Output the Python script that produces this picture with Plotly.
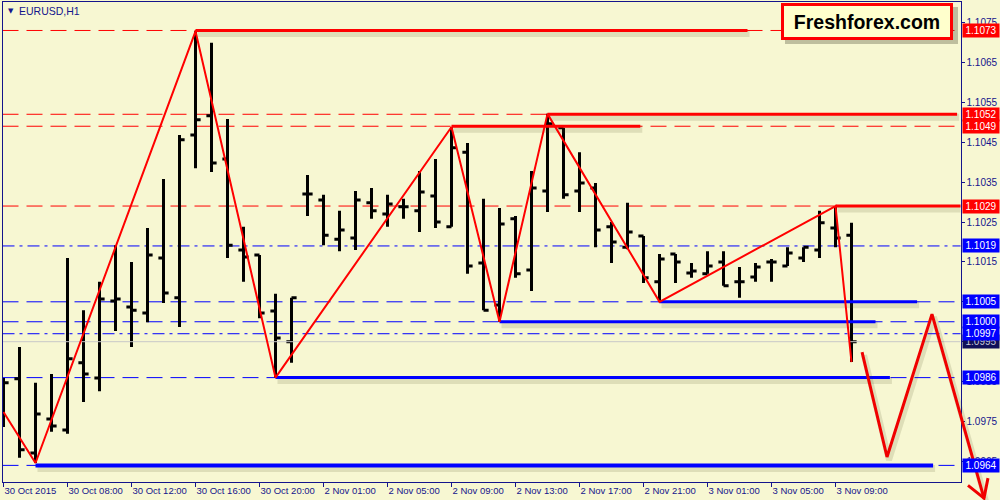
import plotly.graph_objects as go

# ---------------- data ----------------
tick_labels = ["30 Oct 2015", "30 Oct 08:00", "30 Oct 12:00", "30 Oct 16:00", "30 Oct 20:00",
               "2 Nov 01:00", "2 Nov 05:00", "2 Nov 09:00", "2 Nov 13:00", "2 Nov 17:00",
               "2 Nov 21:00", "3 Nov 01:00", "3 Nov 05:00", "3 Nov 09:00"]
tick_bars = [0, 4, 8, 12, 16, 20, 24, 28, 32, 36, 40, 44, 48, 52]

bar_open = [1.09791, 1.09857, 1.09671, 1.09756, 1.09729, 1.09897, 1.09859, 1.10052, 1.10037, 1.10022,
            1.10160, 1.10060, 1.10468, 1.10516, 1.10408, 1.10180, 1.10167, 1.10027, 1.09950, 1.10320,
            1.10305, 1.10207, 1.10210, 1.10298, 1.10270, 1.10288, 1.10278, 1.10315, 1.10238, 1.10425,
            1.10147, 1.10042, 1.10258, 1.10130, 1.10328, 1.10486, 1.10328, 1.10335, 1.10238, 1.10187,
            1.10215, 1.10100, 1.10170, 1.10122, 1.10120, 1.10150, 1.10100, 1.10112, 1.10150, 1.10140,
            1.10160, 1.10180, 1.10235, 1.10217]
bar_high = [1.09859, 1.09937, 1.09847, 1.09869, 1.10160, 1.10029, 1.10100, 1.10192, 1.10150, 1.10235,
            1.10358, 1.10468, 1.10728, 1.10699, 1.10508, 1.10238, 1.10167, 1.10070, 1.10060, 1.10368,
            1.10318, 1.10278, 1.10328, 1.10335, 1.10318, 1.10308, 1.10378, 1.10408, 1.10488, 1.10448,
            1.10308, 1.10285, 1.10265, 1.10378, 1.10521, 1.10486, 1.10425, 1.10348, 1.10250, 1.10298,
            1.10215, 1.10170, 1.10170, 1.10147, 1.10177, 1.10177, 1.10137, 1.10147, 1.10157, 1.10187,
            1.10187, 1.10278, 1.10290, 1.10248]
bar_low = [1.09736, 1.09659, 1.09646, 1.09724, 1.09719, 1.09799, 1.09826, 1.09977, 1.09937, 1.09999,
           1.10047, 1.09987, 1.10385, 1.10375, 1.10160, 1.10100, 1.10009, 1.09860, 1.09897, 1.10265,
           1.10192, 1.10177, 1.10180, 1.10258, 1.10238, 1.10258, 1.10225, 1.10235, 1.10238, 1.10120,
           1.10029, 1.10000, 1.10110, 1.10077, 1.10275, 1.10308, 1.10275, 1.10187, 1.10147, 1.10182,
           1.10097, 1.10050, 1.10097, 1.10110, 1.10120, 1.10090, 1.10060, 1.10100, 1.10100, 1.10140,
           1.10150, 1.10160, 1.10187, 1.09899]
bar_close = [1.09847, 1.09679, 1.09769, 1.09739, 1.09907, 1.09869, 1.10057, 1.10057, 1.10029, 1.10167,
             1.10072, 1.10456, 1.10506, 1.10398, 1.10192, 1.10162, 1.10022, 1.09959, 1.10060, 1.10320,
             1.10217, 1.10230, 1.10305, 1.10278, 1.10295, 1.10288, 1.10325, 1.10250, 1.10436, 1.10140,
             1.10029, 1.10245, 1.10120, 1.10335, 1.10496, 1.10318, 1.10348, 1.10230, 1.10200, 1.10225,
             1.10110, 1.10157, 1.10150, 1.10127, 1.10140, 1.10090, 1.10100, 1.10137, 1.10150, 1.10172,
             1.10187, 1.10248, 1.10210, 1.09950]
bar_index = list(range(len(bar_open)))

zigzag_bar = [0, 2, 12, 17, 28, 31, 34, 41, 52, 53]
zigzag_price = [1.09774, 1.09646, 1.10728, 1.09860, 1.10488, 1.10000, 1.10521, 1.10050, 1.10290, 1.09899]

# horizontal lines: price, colour, style
hline_price = [1.1073, 1.1052, 1.1049, 1.1029, 1.1019, 1.1005, 1.1000, 1.0997, 1.0986, 1.0964]
hline_color = ["red", "red", "red", "red", "blue", "blue", "blue", "blue", "blue", "blue"]
hline_style = ["dash", "dash", "dash", "dash", "dashdot", "dash", "dash", "dashdot", "dash", "dash"]

# trend segments: price, start bar, end bar, colour
seg_price = [1.1073, 1.1052, 1.1049, 1.1029, 1.1005, 1.1000, 1.0986, 1.0964]
seg_start = [12, 34, 28, 52, 41, 31, 17, 2]
seg_end = [46.5, 59.6, 39.8, 60.0, 57.1, 54.5, 55.4, 58.1]
seg_color = ["red", "red", "red", "red", "blue", "blue", "blue", "blue"]
seg_width = [3, 3, 3, 3, 3, 3, 3, 4]

bid_price = 1.0995

# price labels on the right scale
label_price = [1.0995, 1.1073, 1.1052, 1.1049, 1.1029, 1.1019, 1.1005, 1.1000, 1.0997, 1.0986, 1.0964]
label_bg = ["#10105A", "#FF0000", "#FF0000", "#FF0000", "#FF0000", "#0000FF", "#0000FF", "#0000FF",
            "#0000FF", "#0000FF", "#0000FF"]
label_fg = ["#C8C8D8", "white", "white", "white", "white", "white", "white", "white", "white", "white", "white"]

axis_ticks = [1.0965, 1.0975, 1.0985, 1.0995, 1.1005, 1.1015, 1.1025, 1.1035, 1.1045, 1.1055, 1.1065, 1.1075]

# hand-drawn forecast arrow (bar index, price)
forecast_bar = [53.66, 55.22, 58.03, 61.28]
forecast_price = [1.09924, 1.09661, 1.10019, 1.09558]
arrowhead_bar = [60.28, 61.28, 61.53]
arrowhead_price = [1.09590, 1.09558, 1.09608]

# ---------------- layout geometry ----------------
W, H = 1000, 500
L, R, T, B = 2.5, 960.5, 1.5, 482.0      # plot area in px
X0, DX = 3.5, 16.0                        # px of bar 0, px per bar
Y0, P0, K = 22.5, 1.1075, 39900.0         # px of P0, px per price unit

xr = [(L - X0) / DX, (R - X0) / DX]
yr = [P0 - (B - Y0) / K, P0 + (Y0 - T) / K]
xr2 = [(0 - X0) / DX, (W - X0) / DX]
yr2 = [P0 - (H - Y0) / K, P0 + (Y0 - 0) / K]

BG = "#F7F7D2"
NAVY = "#14148C"
FONT = "Liberation Sans"
shadow_dx = 2.0 / DX
shadow_dy = 3.0 / K
SHADOW = "rgba(70,70,30,0.14)"

fig = go.Figure()

# shadows of trend segments
for p, s, e in zip(seg_price, seg_start, seg_end):
    fig.add_trace(go.Scatter(x=[s + shadow_dx, e + shadow_dx], y=[p - shadow_dy, p - shadow_dy],
                             mode="lines", line=dict(color=SHADOW, width=7),
                             hoverinfo="skip", showlegend=False))

# bid line
fig.add_trace(go.Scatter(x=xr, y=[bid_price, bid_price], mode="lines",
                         line=dict(color="#C8C8C8", width=1), hoverinfo="skip", showlegend=False))

# OHLC bars
fig.add_trace(go.Ohlc(x=bar_index, open=bar_open, high=bar_high, low=bar_low, close=bar_close,
                      increasing=dict(line=dict(color="black", width=3)),
                      decreasing=dict(line=dict(color="black", width=3)),
                      tickwidth=0.32, showlegend=False, hoverinfo="skip"))

# trend segments
for p, s, e, c, w in zip(seg_price, seg_start, seg_end, seg_color, seg_width):
    fig.add_trace(go.Scatter(x=[s, e], y=[p, p], mode="lines", line=dict(color=c, width=w),
                             hoverinfo="skip", showlegend=False))

# zigzag
fig.add_trace(go.Scatter(x=zigzag_bar, y=zigzag_price, mode="lines",
                         line=dict(color="#FF0000", width=2), hoverinfo="skip", showlegend=False))

# forecast arrow on a full-figure overlay axis
fig.add_trace(go.Scatter(x=[b + shadow_dx for b in forecast_bar], y=[p - shadow_dy for p in forecast_price],
                         mode="lines", line=dict(color=SHADOW, width=6), xaxis="x2", yaxis="y2",
                         hoverinfo="skip", showlegend=False))
fig.add_trace(go.Scatter(x=forecast_bar, y=forecast_price, mode="lines",
                         line=dict(color="#F00000", width=3), xaxis="x2", yaxis="y2",
                         hoverinfo="skip", showlegend=False))
fig.add_trace(go.Scatter(x=arrowhead_bar, y=arrowhead_price, mode="lines",
                         line=dict(color="#F00000", width=3), xaxis="x2", yaxis="y2",
                         hoverinfo="skip", showlegend=False))

# dashed horizontal lines
dash_map = {"dash": "16px,8px", "dashdot": "12px,5px,3px,5px"}
shapes = []
for p, c, st in zip(hline_price, hline_color, hline_style):
    shapes.append(dict(type="line", xref="x domain", yref="y", x0=0, x1=1, y0=p, y1=p,
                       line=dict(color=c, width=1, dash=dash_map[st]), layer="below"))

# logo box shadow
shapes.append(dict(type="rect", xref="paper", yref="paper",
                   x0=785 / W, x1=958 / W, y0=1 - 44 / H, y1=1 - 7 / H,
                   fillcolor="rgba(60,60,40,0.3)", line=dict(width=0), layer="above"))

annotations = []
# right-scale price labels
for p, bg, fg in zip(label_price, label_bg, label_fg):
    annotations.append(dict(xref="paper", yref="y", x=961.5 / W, y=p, xanchor="left", yanchor="middle",
                            text=f"{p:.4f}", showarrow=False, bgcolor=bg, width=34, height=11,
                            borderpad=1, font=dict(family=FONT, size=10, color=fg), align="center"))

# chart title
annotations.append(dict(xref="paper", yref="paper", x=6 / W, y=1 - 11 / H, xanchor="left", yanchor="middle",
                        text="▼", showarrow=False, font=dict(family="DejaVu Sans", size=7, color=NAVY)))
annotations.append(dict(xref="paper", yref="paper", x=17 / W, y=1 - 11 / H, xanchor="left", yanchor="middle",
                        text="EURUSD,H1", showarrow=False, font=dict(family=FONT, size=10.5, color=NAVY)))

# logo
annotations.append(dict(xref="paper", yref="paper", x=867 / W, y=1 - 21.5 / H, xanchor="center",
                        yanchor="middle", text="<b>Freshforex.com</b>", showarrow=False,
                        bgcolor="#FFFFCC", bordercolor="#FF0000", borderwidth=3, borderpad=0,
                        width=166, height=31, font=dict(family=FONT, size=19.5, color="black")))

fig.update_layout(
    width=W, height=H, autosize=False,
    margin=dict(l=0, r=0, t=0, b=0, pad=0, autoexpand=False),
    paper_bgcolor=BG, plot_bgcolor="rgba(0,0,0,0)",
    showlegend=False,
    shapes=shapes, annotations=annotations,
    xaxis=dict(domain=[L / W, R / W], range=xr, showgrid=False, zeroline=False,
               showline=True, mirror=True, linecolor=NAVY, linewidth=1,
               ticks="outside", ticklen=4, tickcolor=NAVY, tickangle=0, automargin=False,
               tickvals=tick_bars, ticktext=tick_labels, ticklabelposition="outside right",
               tickfont=dict(family=FONT, size=9.5, color=NAVY),
               rangeslider=dict(visible=False), fixedrange=True),
    yaxis=dict(domain=[(H - B) / H, (H - T) / H], range=yr, side="right", showgrid=False,
               zeroline=False, showline=True, mirror=True, linecolor=NAVY, linewidth=1,
               ticks="outside", ticklen=3, tickcolor=NAVY, automargin=False,
               tickvals=axis_ticks, ticktext=[f"{v:.4f}" for v in axis_ticks],
               tickfont=dict(family=FONT, size=10, color=NAVY), fixedrange=True),
    xaxis2=dict(domain=[0, 1], range=xr2, visible=False, anchor="y2", fixedrange=True),
    yaxis2=dict(domain=[0, 1], range=yr2, visible=False, anchor="x2", fixedrange=True),
)

fig.write_html("out.html", config={"displayModeBar": False},
               post_script="document.body.style.margin='0px';document.body.style.overflow='hidden';")
